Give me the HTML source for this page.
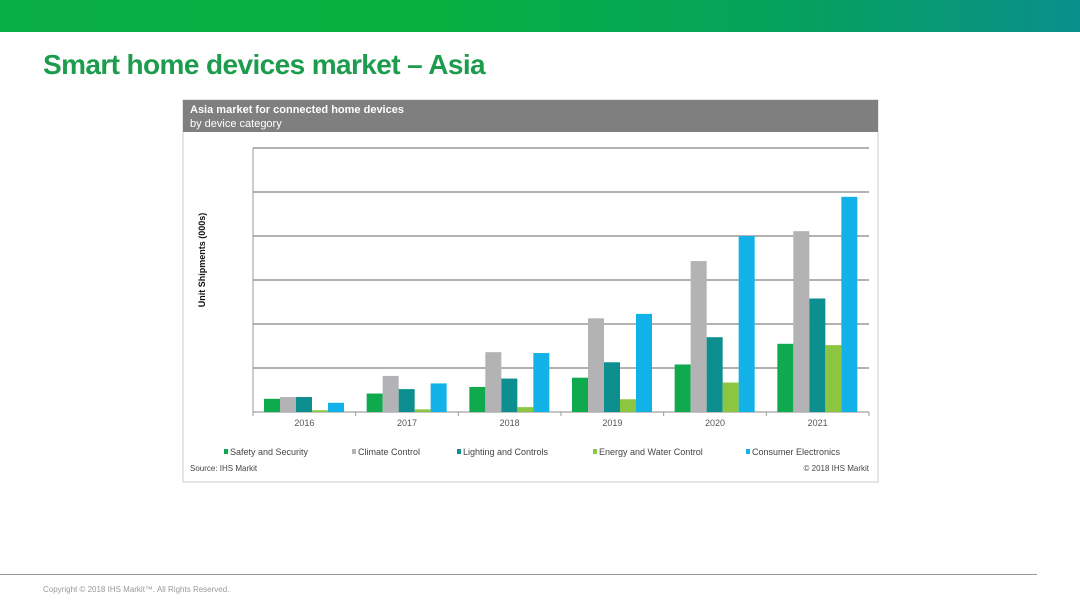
<!DOCTYPE html>
<html><head><meta charset="utf-8"><style>
body{margin:0;width:1080px;height:607px;overflow:hidden;background:#fff;font-family:"Liberation Sans","Noto Sans CJK SC",sans-serif;position:relative}
.banner{position:absolute;left:0;top:0;width:1080px;height:32px;background:linear-gradient(90deg,#0aae46 0%,#07b040 40%,#05a060 75%,#0a8f8c 100%)}
.title{position:absolute;left:43px;top:49px;font-size:28px;font-weight:bold;color:#1c9c4c;letter-spacing:-0.6px;white-space:nowrap}
.footline{position:absolute;left:0;top:574px;width:1037px;height:1px;background:#999}
.foot{position:absolute;left:43px;top:585px;font-size:8px;color:#999}
</style></head><body>
<div class="banner"></div>
<div class="title">Smart home devices market – Asia</div>
<svg style="position:absolute;left:0;top:0" width="1080" height="607" id="svg"></svg>
<div class="footline"></div>
<div class="foot">Copyright © 2018 IHS Markit™. All Rights Reserved.</div>
<script>
const categories=["2016","2017","2018","2019","2020","2021"];
const seriesNames=["Safety and Security","Climate Control","Lighting and Controls","Energy and Water Control","Consumer Electronics"];
const safety=[0.30,0.42,0.57,0.78,1.08,1.55];
const climate=[0.34,0.82,1.36,2.13,3.43,4.11];
const lighting=[0.34,0.52,0.76,1.13,1.70,2.58];
const energy=[0.04,0.06,0.11,0.29,0.67,1.52];
const consumer=[0.21,0.65,1.34,2.23,4.00,4.89];
const colors=["#0faa4e","#b3b3b5","#0d8f8f","#8cc640","#12b2e8"];
const series=[safety,climate,lighting,energy,consumer];
const yMax=6;
const L=253,R=869,T=148,B=412;
const svg=document.getElementById('svg');const NS='http://www.w3.org/2000/svg';
function mk(t,a,p){const e=document.createElementNS(NS,t);for(const k in a)e.setAttribute(k,a[k]);(p||svg).appendChild(e);return e;}
const y=v=>B-(v/yMax)*(B-T);
const gw=(R-L)/categories.length;
const x=(i,s)=>L+i*gw+11+s*16;
let e=mk('rect',{x:183,y:100,width:695,height:382,fill:'#fff',stroke:'#ccc'});


e=mk('rect',{x:183,y:100,width:695,height:32,fill:'#7f7f7f'});


e=mk('text',{x:190,y:113,fill:'#fff','font-size':11,'font-weight':'bold'});e.textContent='Asia market for connected home devices';


e=mk('text',{x:190,y:127,fill:'#fff','font-size':11});e.textContent='by device category';


for(let k=0;k<=yMax;k++){e=mk('line',{x1:L,x2:R,y1:y(k),y2:y(k),stroke:k==0?'#888':'#999','stroke-width':k==0?1:1.5});

}
e=mk('line',{x1:L,x2:L,y1:T,y2:B,stroke:'#999'});


for(let i=0;i<=categories.length;i++){mk('line',{x1:L+i*gw,x2:L+i*gw,y1:B,y2:B+4,stroke:'#999'});}
categories.forEach((c,i)=>{
 series.forEach((s,j)=>{e=mk('rect',{x:x(i,j),y:y(s[i]),width:16,height:B-y(s[i]),fill:colors[j]});
 
 });
 e=mk('text',{x:L+i*gw+gw/2,y:426,'font-size':9,fill:'#555','text-anchor':'middle'});e.textContent=c;
 
 
});
e=mk('text',{x:0,y:0,'font-size':9,'font-weight':'bold',fill:'#111','text-anchor':'middle',transform:'translate(205,260) rotate(-90)'});e.textContent='Unit Shipments (000s)';


const lx=[224,352,457,593,746];
seriesNames.forEach((n,j)=>{
 const g=mk('g',{});
 
 
 mk('rect',{x:lx[j],y:449,width:4,height:5,fill:colors[j]},g);
 const t=mk('text',{x:lx[j]+6,y:455,'font-size':9,fill:'#444'},g);t.textContent=n;
});
e=mk('text',{x:190,y:471,'font-size':8,fill:'#444'});e.textContent='Source: IHS Markit';


e=mk('text',{x:869,y:471,'font-size':8,fill:'#444','text-anchor':'end'});e.textContent='© 2018 IHS Markit';


</script>
</body></html>
